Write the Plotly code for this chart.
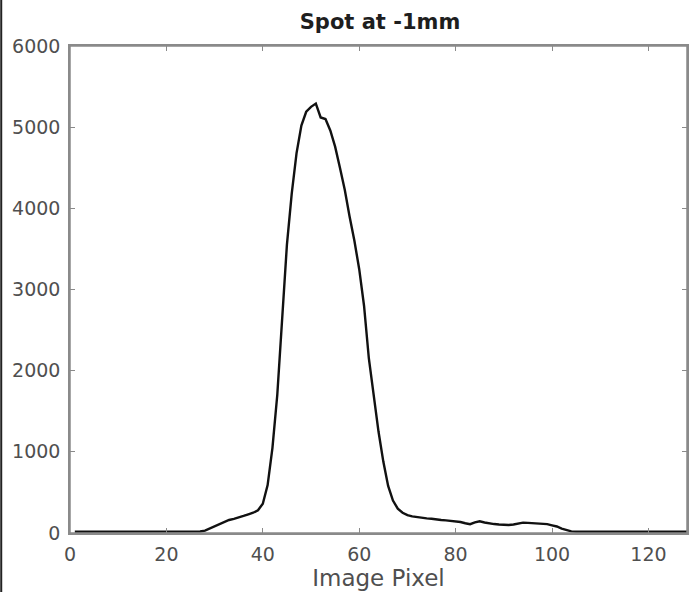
import plotly.graph_objects as go

# Image pixel index and measured intensity
pixel = list(range(1, 129))
intensity = [
    15, 15, 15, 15, 15, 15, 15, 15, 15, 15,
    15, 15, 15, 15, 15, 15, 15, 15, 15, 15,
    15, 15, 15, 15, 15, 15, 18, 30, 55, 78,
    100, 130, 160, 175, 190, 210, 230, 250, 280, 360,
    590, 1050, 1700, 2600, 3550, 4180, 4680, 5020, 5190, 5250,
    5290, 5120, 5100, 4960, 4760, 4500, 4230, 3900, 3600, 3250,
    2800, 2150, 1680, 1250, 880, 580, 400, 300, 250, 220,
    205, 195, 185, 180, 175, 165, 160, 155, 150, 148,
    135, 120, 108, 130, 145, 130, 118, 110, 105, 100,
    98, 105, 120, 127, 125, 122, 120, 118, 110, 95,
    80, 55, 35, 20, 15, 15, 15, 15, 15, 15,
    15, 15, 15, 15, 15, 15, 15, 15, 15, 15,
    15, 15, 15, 15, 15, 15, 15, 15,
]

x_ticks = [0, 20, 40, 60, 80, 100, 120]
y_ticks = [0, 1000, 2000, 3000, 4000, 5000, 6000]

FONT = "DejaVu Sans, Liberation Sans, Arial, sans-serif"

fig = go.Figure()
fig.add_trace(go.Scatter(
    x=pixel, y=intensity, mode="lines",
    line=dict(color="#111111", width=2.4),
    showlegend=False,
))

axis_common = dict(
    showgrid=False, zeroline=False,
    showline=True, linecolor="#8a8a8a", linewidth=1.5,
    mirror="ticks", ticks="inside", ticklen=5, tickcolor="#8a8a8a", tickwidth=1,
    tickfont=dict(family=FONT, size=19, color="#4f4f4f"),
)

fig.update_xaxes(range=[0, 128], tickvals=x_ticks, ticktext=[str(v) for v in x_ticks],
                 ticklabelstandoff=3,
                 title=dict(text="Image Pixel", standoff=2,
                            font=dict(family=FONT, size=23, color="#4f4f4f")),
                 **axis_common)
fig.update_yaxes(range=[0, 6000], tickvals=y_ticks, ticktext=[str(v) for v in y_ticks],
                 ticklabelstandoff=4, **axis_common)

fig.update_layout(
    width=691, height=592,
    margin=dict(l=70, r=2, t=46, b=59),
    paper_bgcolor="white", plot_bgcolor="white",
    title=dict(text="<b>Spot at -1mm</b>", x=(381 - 70) / 619, xref="paper", xanchor="center",
               y=1 - 22 / 592, yanchor="middle",
               font=dict(family=FONT, size=21, color="#1e1e1e")),
    shapes=[
        dict(type="line", xref="paper", yref="paper",
             x0=(1 - 70) / 619, x1=(1 - 70) / 619, y0=-59 / 487, y1=(487 + 46) / 487,
             line=dict(color="#222222", width=2)),
        dict(type="rect", xref="paper", yref="paper", x0=0, x1=1, y0=0, y1=1,
             line=dict(color="#8a8a8a", width=1.5), layer="above"),
    ],
)

fig.write_html("out.html", config={"displayModeBar": False},
               post_script="document.body.style.margin='0';document.body.style.overflow='hidden';")
